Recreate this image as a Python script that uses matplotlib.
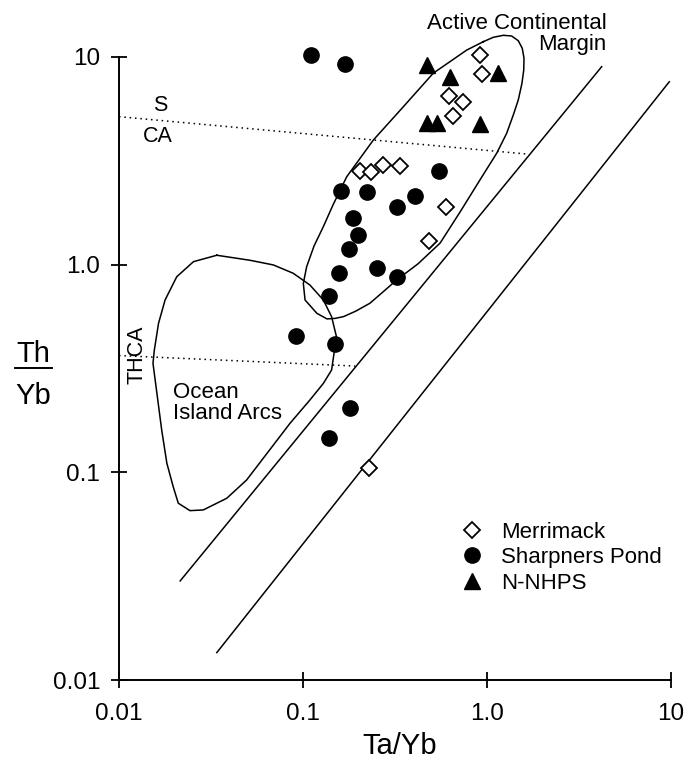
import numpy as np
import matplotlib.pyplot as plt
from matplotlib.lines import Line2D

plt.rcParams["font.family"] = ["Liberation Sans", "DejaVu Sans"]

# sample data (Ta/Yb, Th/Yb)
merrimack_x = [0.916, 0.940, 0.623, 0.738, 0.656, 0.204, 0.233, 0.273, 0.337, 0.597, 0.482, 0.229]
merrimack_y = [10.2, 8.31, 6.49, 6.09, 5.20, 2.84, 2.79, 3.02, 3.00, 1.89, 1.30, 0.105]

sharp_x = [0.110, 0.170, 0.551, 0.161, 0.223, 0.405, 0.326, 0.187, 0.199, 0.178,
           0.157, 0.254, 0.326, 0.139, 0.0917, 0.150, 0.180, 0.139]
sharp_y = [10.2, 9.25, 2.82, 2.26, 2.24, 2.15, 1.90, 1.67, 1.39, 1.19,
           0.909, 0.967, 0.875, 0.707, 0.455, 0.415, 0.205, 0.147]

nnhps_x = [0.472, 0.630, 1.148, 0.470, 0.534, 0.916]
nnhps_y = [9.18, 7.99, 8.33, 4.83, 4.83, 4.76]

# field boundaries
acm_x = [0.955, 1.082, 1.227, 1.362, 1.479, 1.555, 1.589, 1.584, 1.549, 1.479, 1.390,
         1.279, 1.129, 0.916, 0.713, 0.556, 0.422, 0.323, 0.272, 0.231, 0.194, 0.166,
         0.149, 0.135, 0.119, 0.1026, 0.1004, 0.1047, 0.1148, 0.1288, 0.1456, 0.1728,
         0.241, 0.351, 0.510, 0.776, 0.955]
acm_y = [11.85, 12.44, 12.72, 12.62, 11.98, 11.01, 9.86, 8.66, 7.47, 6.21, 5.26,
         4.29, 3.44, 2.56, 1.79, 1.27, 1.01, 0.844, 0.739, 0.652, 0.598, 0.562,
         0.551, 0.548, 0.583, 0.676, 0.813, 0.978, 1.23, 1.52, 1.94, 2.65,
         3.98, 5.76, 8.35, 10.8, 11.85]

oia_x = [0.0340, 0.0515, 0.0690, 0.0885, 0.109, 0.129, 0.143, 0.152, 0.150, 0.143, 0.129,
         0.109, 0.0849, 0.0494, 0.0385, 0.0287, 0.0243, 0.0210, 0.0197, 0.0182, 0.01706,
         0.0153, 0.01556, 0.0164, 0.0178, 0.0206, 0.0254, 0.0340]
oia_y = [1.11, 1.05, 0.997, 0.909, 0.798, 0.676, 0.562, 0.450, 0.415, 0.311, 0.268,
         0.223, 0.172, 0.0919, 0.0750, 0.0659, 0.0654, 0.0710, 0.0853, 0.1106, 0.160,
         0.335, 0.388, 0.522, 0.676, 0.875, 1.034, 1.11]

upper_line_x = [0.0215, 4.20]
upper_line_y = [0.030, 8.98]
lower_line_x = [0.034, 9.79]
lower_line_y = [0.01355, 7.60]

s_ca_x = [0.01, 1.64]
s_ca_y = [5.16, 3.41]
th_ca_x = [0.01, 0.192]
th_ca_y = [0.365, 0.325]

ticks = [0.01, 0.1, 1.0, 10]
tick_labels = ["0.01", "0.1", "1.0", "10"]

fig = plt.figure(figsize=(6.98, 7.62), dpi=100)
ax = fig.add_axes([0.1705, 0.1076, 0.7908, 0.8176])
ax.set_xscale("log")
ax.set_yscale("log")
ax.set_xlim(0.01, 10)
ax.set_ylim(0.01, 10)

ax.plot(acm_x, acm_y, color="black", lw=1.1, clip_on=False)
ax.plot(oia_x, oia_y, color="black", lw=1.1)
ax.plot(upper_line_x, upper_line_y, color="black", lw=1.1)
ax.plot(lower_line_x, lower_line_y, color="black", lw=1.1)
ax.plot(s_ca_x, s_ca_y, color="black", lw=1.1, ls=(0, (1, 2.5)))
ax.plot(th_ca_x, th_ca_y, color="black", lw=1.1, ls=(0, (1, 2.5)))

ax.plot(merrimack_x, merrimack_y, ls="none", marker="D", ms=8, mfc="white", mec="black",
        mew=1.3, clip_on=False, label="Merrimack", zorder=3)
ax.plot(sharp_x, sharp_y, ls="none", marker="o", ms=11, color="black",
        clip_on=False, label="Sharpners Pond", zorder=3)
ax.plot(nnhps_x, nnhps_y, ls="none", marker="^", ms=12, color="black",
        clip_on=False, label="N-NHPS", zorder=3)

ax.text(0.0167, 5.87, "S", fontsize=15.5, ha="center", va="center")
ax.text(0.0163, 4.12, "CA", fontsize=15.5, ha="center", va="center")
ax.text(0.01253, 0.367, "THCA", fontsize=15.5, ha="center", va="center", rotation=90)
ax.text(0.01966, 0.216, "Ocean\nIsland Arcs", fontsize=16, ha="left", va="center",
        linespacing=1.0)
fig.text(0.869, 0.956, "Active Continental\nMargin", fontsize=16, ha="right",
         va="center", linespacing=1.0)

ax.spines["top"].set_visible(False)
ax.spines["right"].set_visible(False)
ax.spines["left"].set_linewidth(1.4)
ax.spines["bottom"].set_linewidth(1.4)
ax.set_xticks(ticks, tick_labels)
ax.set_yticks(ticks, tick_labels)
ax.minorticks_off()
ax.tick_params(axis="both", direction="inout", length=11, width=1.3, labelsize=17.5)
ax.tick_params(axis="x", pad=11)
ax.tick_params(axis="y", pad=8)

fig.text(0.572, 0.021, "Ta/Yb", fontsize=21, ha="center", va="center")
fig.text(0.048, 0.535, "Th", fontsize=21, ha="center", va="center")
fig.text(0.048, 0.480, "Yb", fontsize=21, ha="center", va="center")
fig.add_artist(Line2D([0.021, 0.075], [0.5175, 0.5175], color="black", lw=1.4))

ax.legend(loc="upper left", bbox_to_anchor=(0.6, 0.272), frameon=False, fontsize=16,
          handlelength=1.0, handletextpad=0.8, labelspacing=0.2, borderpad=0,
          markerscale=1.0)

fig.savefig("out.png")
plt.close(fig)
